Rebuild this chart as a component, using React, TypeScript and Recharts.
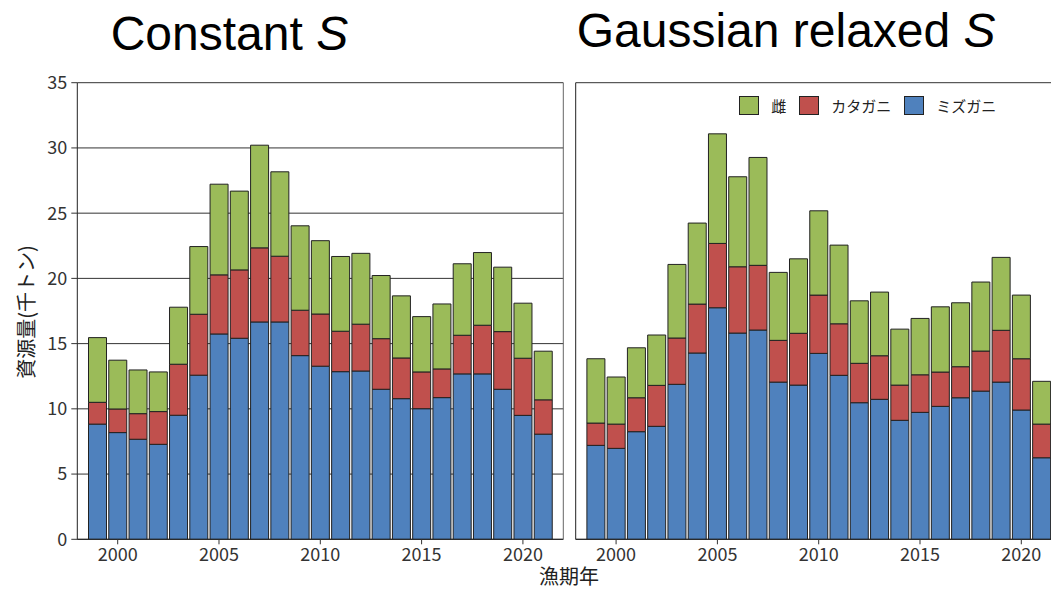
import { BarChart, Bar, XAxis, YAxis, CartesianGrid, Legend } from "recharts";

const years = [
  1999, 2000, 2001, 2002, 2003, 2004, 2005, 2006, 2007, 2008, 2009, 2010,
  2011, 2012, 2013, 2014, 2015, 2016, 2017, 2018, 2019, 2020, 2021,
];

// Constant S (left panel)
const constSoft = [8.83, 8.18, 7.67, 7.28, 9.51, 12.58, 15.74, 15.41, 16.66, 16.66, 14.08, 13.27, 12.85, 12.9, 11.5, 10.78, 10.01, 10.86, 12.68, 12.68, 11.5, 9.5, 8.06];
const constHard = [1.67, 1.81, 1.96, 2.51, 3.91, 4.67, 4.53, 5.24, 5.68, 5.04, 3.48, 4.0, 3.1, 3.59, 3.88, 3.12, 2.82, 2.2, 2.96, 3.73, 4.42, 4.38, 2.63];
const constFemale = [4.96, 3.74, 3.35, 3.04, 4.37, 5.19, 6.95, 6.04, 7.87, 6.47, 6.47, 5.62, 5.73, 5.43, 4.84, 4.76, 4.24, 4.98, 5.48, 5.57, 4.94, 4.22, 3.73];

// Gaussian relaxed S (right panel)
const gaussSoft = [7.2, 6.97, 8.25, 8.66, 11.88, 14.28, 17.75, 15.81, 16.04, 12.05, 11.82, 14.25, 12.57, 10.47, 10.73, 9.12, 9.73, 10.19, 10.85, 11.36, 12.05, 9.91, 6.25];
const gaussHard = [1.71, 1.86, 2.6, 3.14, 3.55, 3.75, 4.93, 5.08, 4.96, 3.2, 3.97, 4.47, 3.95, 3.02, 3.34, 2.7, 2.88, 2.63, 2.38, 3.07, 3.97, 3.93, 2.58];
const gaussFemale = [4.93, 3.61, 3.83, 3.86, 5.64, 6.21, 8.4, 6.9, 8.27, 5.21, 5.71, 6.46, 6.03, 4.79, 4.88, 4.29, 4.32, 5.0, 4.9, 5.29, 5.59, 4.88, 3.28];

const yTicks = [0, 5, 10, 15, 20, 25, 30, 35];
const labeledYears = [2000, 2005, 2010, 2015, 2020];

const names = { soft: "ミズガニ", hard: "カタガニ", female: "雌" };
const colors = { soft: "#4F81BD", hard: "#C0504D", female: "#9BBB59" };
const legendOrder = [names.female, names.hard, names.soft];

const buildRows = (soft: number[], hard: number[], female: number[]) =>
  years.map((year, i) => ({ year, soft: soft[i], hard: hard[i], female: female[i] }));

const constRows = buildRows(constSoft, constHard, constFemale);
const gaussRows = buildRows(gaussSoft, gaussHard, gaussFemale);

const JP = '"Noto Sans CJK JP", "Noto Sans", sans-serif';
const LATIN = '"Liberation Sans", Arial, sans-serif';

const PLOT_TOP = 82.7;
const PLOT_BOTTOM = 539.3;
const PLOT_W = 486;
const H = 591;
const X_AXIS_H = 30;

function YearTick(props: any) {
  const { x, y, payload } = props;
  if (!labeledYears.includes(Number(payload.value))) return <g />;
  return (
    <g>
      <line x1={x} x2={x} y1={y} y2={y + 5} stroke="#333" />
      <text x={x} y={y + 22} textAnchor="middle" fontSize={18} fill="#333" fontFamily={JP}>
        {payload.value}
      </text>
    </g>
  );
}

function LegendBoxes(props: any) {
  const items = [...(props.payload || [])].sort(
    (a: any, b: any) => legendOrder.indexOf(a.value) - legendOrder.indexOf(b.value)
  );
  return (
    <div style={{ display: "flex", alignItems: "center", fontFamily: JP, fontSize: 15, color: "#222" }}>
      {items.map((it: any) => (
        <div key={it.value} style={{ display: "flex", alignItems: "center", marginRight: 13 }}>
          <div style={{ width: 18, height: 17, background: it.color, border: "1px solid #222" }} />
          <span style={{ marginLeft: 12 }}>{it.value}</span>
        </div>
      ))}
    </div>
  );
}

function Panel({ rows, showYLabels, width, marginLeft, legend }: any) {
  const leftW = showYLabels ? 77.3 : 1;
  const marginRight = width - marginLeft - leftW - PLOT_W - 1;
  return (
    <BarChart
      width={width}
      height={H}
      data={rows}
      margin={{ top: PLOT_TOP, right: marginRight, bottom: H - PLOT_BOTTOM - X_AXIS_H, left: marginLeft }}
      barCategoryGap={1.2}
    >
      <CartesianGrid vertical={false} stroke="#333" />
      <XAxis
        dataKey="year"
        height={X_AXIS_H}
        padding={{ left: 10, right: 10 }}
        interval={0}
        tickSize={0}
        tickMargin={0}
        tickLine={false}
        axisLine={{ stroke: "#222" }}
        tick={<YearTick />}
      />
      <XAxis xAxisId="top" dataKey="year" orientation="top" height={0} tick={false} tickLine={false} axisLine={{ stroke: "#666" }} />
      <YAxis
        type="number"
        domain={[0, 35]}
        ticks={yTicks}
        width={leftW}
        tickSize={6}
        tickMargin={4}
        tick={showYLabels ? { fontSize: 18, fill: "#333", fontFamily: JP } : false}
        tickLine={showYLabels ? { stroke: "#333" } : false}
        axisLine={{ stroke: "#222" }}
        allowDataOverflow
      />
      <YAxis
        yAxisId="right"
        orientation="right"
        type="number"
        domain={[0, 35]}
        ticks={yTicks}
        width={1}
        tick={false}
        tickLine={false}
        axisLine={{ stroke: "#666" }}
        allowDataOverflow
      />
      {legend && (
        <Legend
          layout="horizontal"
          verticalAlign="middle"
          align="center"
          wrapperStyle={{ top: 95, left: 169.3, width: "auto" }}
          content={<LegendBoxes />}
        />
      )}
      <Bar dataKey="soft" name={names.soft} stackId="s" fill={colors.soft} stroke="#222" isAnimationActive={false} />
      <Bar dataKey="hard" name={names.hard} stackId="s" fill={colors.hard} stroke="#222" isAnimationActive={false} />
      <Bar dataKey="female" name={names.female} stackId="s" fill={colors.female} stroke="#222" isAnimationActive={false} />
    </BarChart>
  );
}

export default function App() {
  return (
    <div style={{ position: "absolute", left: 0, top: 0, width: 1051, height: H, overflow: "hidden", background: "#fff" }}>
      <div style={{ position: "absolute", left: 0, top: 0 }}>
        <Panel rows={constRows} showYLabels width={570} marginLeft={0} />
      </div>
      <div style={{ position: "absolute", left: 570, top: 0 }}>
        <Panel rows={gaussRows} showYLabels={false} width={500} marginLeft={4.7} legend />
      </div>
      <svg width={1051} height={H} style={{ position: "absolute", left: 0, top: 0, pointerEvents: "none" }}>
        <text x={110.7} y={50} fontSize={48} fontFamily={LATIN} fill="#000">
          Constant <tspan fontStyle="italic">S</tspan>
        </text>
        <text x={576.7} y={47} fontSize={48} fontFamily={LATIN} fill="#000">
          Gaussian relaxed <tspan fontStyle="italic">S</tspan>
        </text>
        <text transform="translate(34,312) rotate(-90)" textAnchor="middle" fontSize={20} fontFamily={JP} fill="#222">
          資源量(千トン)
        </text>
        <text x={569} y={584} textAnchor="middle" fontSize={20} fontFamily={JP} fill="#222">
          漁期年
        </text>
      </svg>
    </div>
  );
}
